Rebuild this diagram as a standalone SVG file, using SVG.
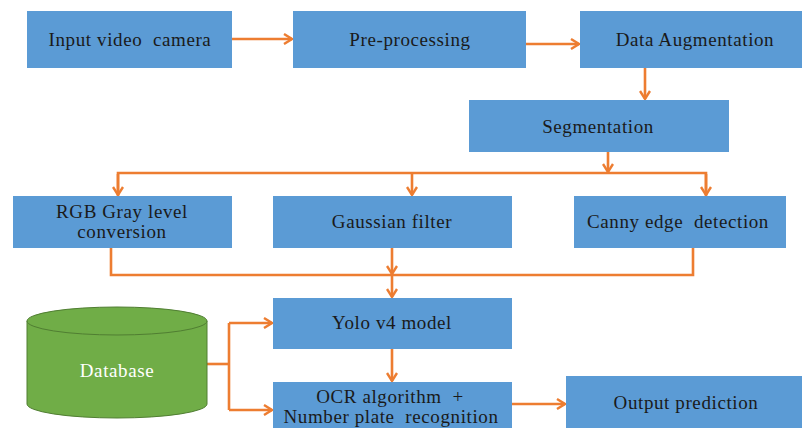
<svg xmlns="http://www.w3.org/2000/svg" width="802" height="428" viewBox="0 0 802 428">
  <defs>
    <marker id="chev" viewBox="0 0 12 12" refX="10" refY="6" markerWidth="12" markerHeight="12" markerUnits="userSpaceOnUse" orient="auto">
      <path d="M2,1 L10,6 L2,11" fill="none" stroke="#ed7d31" stroke-width="2.4"/>
    </marker>
  </defs>
  <style>
    .box { fill: #5b9bd5; }
    .lbl { font-family: "Liberation Serif", "Times New Roman", serif; font-size: 19px; letter-spacing: 0.6px; fill: #1a1a1a; text-anchor: middle; white-space: pre; }
    .wire { fill: none; stroke: #ed7d31; stroke-width: 2.6; }
    .arrow { fill: none; stroke: #ed7d31; stroke-width: 2.6; marker-end: url(#chev); }
  </style>
  <rect width="802" height="428" fill="#ffffff"/>

  <g id="connectors">
    <line class="arrow" x1="232" y1="39" x2="292" y2="39"/>
    <line class="arrow" x1="526" y1="44" x2="579" y2="44"/>
    <line class="arrow" x1="645" y1="68" x2="645" y2="99"/>
    <line class="arrow" x1="608" y1="152" x2="608" y2="172"/>
    <polyline class="wire" points="118,196 118,173 706,173 706,196"/>
    <line class="arrow" x1="118" y1="174" x2="118" y2="195"/>
    <line class="arrow" x1="412" y1="173" x2="412" y2="195"/>
    <line class="arrow" x1="706" y1="174" x2="706" y2="195"/>
    <polyline class="wire" points="111,248 111,275 693,275 693,248"/>
    <line class="arrow" x1="392" y1="248" x2="392" y2="274"/>
    <line class="arrow" x1="392" y1="275" x2="392" y2="297"/>
    <line class="arrow" x1="392" y1="349" x2="392" y2="381"/>
    <polyline class="wire" points="207,364 229,364"/>
    <polyline class="wire" points="229,323 229,410"/>
    <line class="arrow" x1="229" y1="323" x2="272" y2="323"/>
    <line class="arrow" x1="229" y1="410" x2="272" y2="410"/>
    <line class="arrow" x1="512" y1="404" x2="565" y2="404"/>
  </g>

  <g id="input-camera">
    <rect class="box" x="27" y="11" width="205" height="57"/>
    <text class="lbl" x="130" y="46">Input video  camera</text>
  </g>
  <g id="pre-processing">
    <rect class="box" x="293" y="11" width="233" height="57"/>
    <text class="lbl" x="410" y="46">Pre-processing</text>
  </g>
  <g id="data-augmentation">
    <rect class="box" x="580" y="11" width="222" height="57"/>
    <text class="lbl" x="695" y="46">Data Augmentation</text>
  </g>
  <g id="segmentation">
    <rect class="box" x="469" y="100" width="260" height="52"/>
    <text class="lbl" x="598" y="133">Segmentation</text>
  </g>
  <g id="rgb-gray">
    <rect class="box" x="13" y="196" width="219" height="52"/>
    <text class="lbl" x="122" y="218">RGB Gray level</text>
    <text class="lbl" x="122" y="238">conversion</text>
  </g>
  <g id="gaussian-filter">
    <rect class="box" x="273" y="196" width="239" height="52"/>
    <text class="lbl" x="392" y="228">Gaussian filter</text>
  </g>
  <g id="canny-edge">
    <rect class="box" x="574" y="196" width="212" height="52"/>
    <text class="lbl" x="678" y="228">Canny edge  detection</text>
  </g>
  <g id="yolo-v4">
    <rect class="box" x="273" y="298" width="239" height="51"/>
    <text class="lbl" x="392" y="329">Yolo v4 model</text>
  </g>
  <g id="ocr">
    <rect class="box" x="273" y="382" width="239" height="50"/>
    <text class="lbl" x="390" y="403">OCR algorithm  +</text>
    <text class="lbl" x="391" y="423">Number plate  recognition</text>
  </g>
  <g id="output-prediction">
    <rect class="box" x="566" y="376" width="236" height="56"/>
    <text class="lbl" x="686" y="409">Output prediction</text>
  </g>
  <g id="database">
    <path d="M27,321 L27,404 A90,14 0 0 0 207,404 L207,321 Z" fill="#70ad47" stroke="#507e32" stroke-width="1"/>
    <ellipse cx="117" cy="321" rx="90" ry="14" fill="#70ad47" stroke="#507e32" stroke-width="1"/>
    <text class="lbl" x="117" y="377" style="fill:#ffffff">Database</text>
  </g>
</svg>
